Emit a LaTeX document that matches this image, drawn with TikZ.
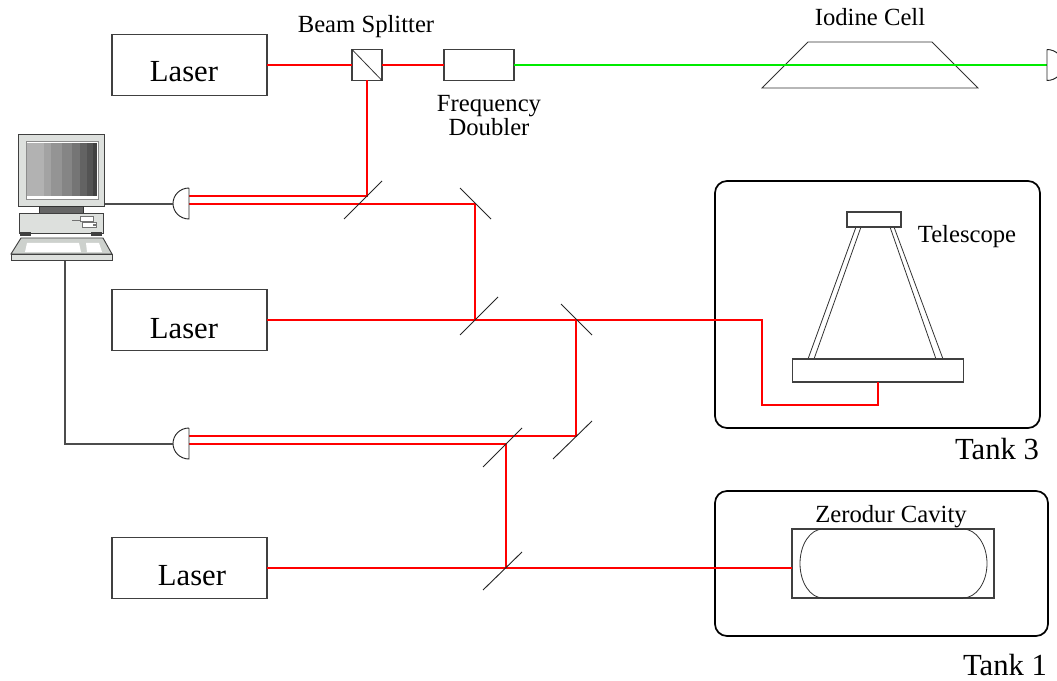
\documentclass[tikz,border=0pt]{standalone}
\usepackage{fontspec}
\setmainfont{Liberation Serif}
\newfontfamily\labelfont{Liberation Serif}
\begin{document}
\begin{tikzpicture}[x=0.75pt,y=-0.75pt,
  part/.style={draw=black!75,line width=0.8pt,inner sep=0pt,outer sep=0pt,fill=white},
  tank/.style={draw=black,line width=1.3pt,rounded corners=9pt,inner sep=0pt},
  beam/.style={draw=red,line width=1.4pt},
  gbeam/.style={draw={rgb,255:red,0;green,235;blue,0},line width=1.4pt},
  mirror/.style={draw=black!85,line width=0.7pt},
  det/.style={draw=black!85,line width=0.7pt,fill=white},
  cable/.style={draw=black!70,line width=0.8pt},
  thin/.style={draw=black!80,line width=0.6pt},
  small/.style={font=\labelfont\fontsize{18.5pt}{15.75pt}\selectfont,inner sep=0pt},
  big/.style={font=\labelfont\fontsize{23pt}{26pt}\selectfont,inner sep=0pt},
]
\useasboundingbox (0,0) rectangle (1057,681);

% ---------- lasers ----------
\node[part,minimum width=116.25pt,minimum height=45.75pt] (laserA) at (189.5,65) {};
\node[part,minimum width=116.25pt,minimum height=45.75pt] (laserB) at (189.5,320) {};
\node[part,minimum width=116.25pt,minimum height=45.75pt] (laserC) at (189.5,568) {};
\node[big,anchor=base] (laserAt) at (184,82) {Laser};
\node[big,anchor=base] (laserBt) at (184,338) {Laser};
\node[big,anchor=base] (laserCt) at (192,585) {Laser};

% ---------- tanks ----------
\node[tank,minimum width=243.75pt,minimum height=185.25pt] (tank3) at (877.5,304.5) {};
\node[tank,minimum width=249.75pt,minimum height=108.75pt] (tank1) at (881.5,563.5) {};
\node[big,anchor=base] (tank3t) at (997,459) {Tank 3};
\node[big,anchor=base] (tank1t) at (1005,675) {Tank 1};

% ---------- beam splitter cube and doubler ----------
\node[part,minimum width=22.5pt,minimum height=23.25pt] (cube) at (367,65) {};
\draw[thin] (cube.north west) -- (cube.south east);
\node[part,minimum width=52.5pt,minimum height=23.25pt] (doubler) at (479,65) {};
\node[small,anchor=base] (cubet) at (366,33) {Beam Splitter};
\node[small,align=center] (doublert) at (489,115.5) {Frequency\\Doubler};

% ---------- iodine cell ----------
\draw[thin] (808,42) -- (932,42) -- (978,88) -- (762,88) -- cycle;
\node[small,anchor=base] (iodinet) at (870,26) {Iodine Cell};

% ---------- telescope ----------
\draw[thin] (856,227) -- (808,359);
\draw[thin] (861,227) -- (814,359);
\draw[thin] (890,227) -- (936,359);
\draw[thin] (894,227) -- (943,359);
\node[part,minimum width=40.5pt,minimum height=11.25pt] (scopetop) at (874,219.5) {};
\node[part,minimum width=128.25pt,minimum height=17.25pt] (scopebase) at (878,370.5) {};
\node[small,anchor=base] (scopet) at (967,243) {Telescope};

% ---------- cavity ----------
\node[part,minimum width=151.5pt,minimum height=51.75pt] (cavity) at (893,563.5) {};
\draw[thin] (823,529) arc[start angle=-90,end angle=-270,x radius=23,y radius=34.5];
\draw[thin] (963,529) arc[start angle=-90,end angle=90,x radius=24,y radius=34.5];
\draw[thin] (823,529) -- (963,529) (823,598) -- (963,598);
\node[small,anchor=base] (cavityt) at (891,522) {Zerodur Cavity};

% ---------- beam path points ----------
\coordinate (d1a) at (189,196);
\coordinate (d1b) at (189,204);
\coordinate (d2a) at (189,436);
\coordinate (d2b) at (189,444);
\coordinate (m1) at (367,196);
\coordinate (m2) at (475,204);
\coordinate (m3) at (475,320);
\coordinate (m4) at (576,320);
\coordinate (m5) at (576,436);
\coordinate (m6) at (506,444);
\coordinate (m7) at (506,568);
\coordinate (t1) at (762,320);
\coordinate (t2) at (762,405);
\coordinate (t3) at (878,405);
\coordinate (det3) at (1047,65);

% ---------- beams ----------
\draw[beam] (laserA.east) -- (cube.west);
\draw[beam] (cube.east) -- (doubler.west);
\draw[gbeam] (doubler.east) -- (det3);
\draw[beam] (cube.south) -- (m1) -- (d1a);
\draw[beam] (d1b) -- (m2) -- (m3);
\draw[beam] (laserB.east) -- (t1) -- (t2) -- (t3) -- (scopebase.south);
\draw[beam] (m4) -- (m5) -- (d2a);
\draw[beam] (d2b) -- (m6) -- (m7);
\draw[beam] (laserC.east) -- (laserC.east -| cavity.west);

% ---------- mirrors ----------
\draw[mirror] (344,219) -- (382,181);
\draw[mirror] (460,188) -- (491,219);
\draw[mirror] (460,335) -- (498,297);
\draw[mirror] (561,304) -- (592,335);
\draw[mirror] (553,459) -- (592,421);
\draw[mirror] (483,467) -- (522,428);
\draw[mirror] (483,590) -- (522,552);

% ---------- detectors ----------
\coordinate (det1) at (189,203.5);
\coordinate (det2) at (189,443.5);
\coordinate (det1w) at (173,204);
\coordinate (det2w) at (173,444);
\draw[det] (det1) ++(0,-15.5) -- ++(0,31) arc[start angle=90,end angle=270,x radius=16,y radius=15.5];
\draw[det] (det2) ++(0,-15.5) -- ++(0,31) arc[start angle=90,end angle=270,x radius=16,y radius=15.5];
\draw[det] (det3) ++(0,-15.5) -- ++(0,31) arc[start angle=90,end angle=-90,x radius=16,y radius=15.5];

% ---------- computer ----------
\definecolor{pcbody}{RGB}{221,224,221}
\definecolor{pckey}{RGB}{205,209,205}
\coordinate (pcR) at (104,204);
\coordinate (pcB) at (65,260);
\draw[cable] (pcR) -- (det1w);
\draw[cable] (pcB) |- (det2w);
% monitor
\draw[fill=pcbody,draw=black!75,line width=0.7pt] (18,134) rectangle (104,206);
\fill[white] (26,141) rectangle (98,199);
\fill[black!30] (27,143) rectangle (44,196);
\fill[black!36] (44,143) rectangle (51,196);
\fill[black!42] (51,143) rectangle (62,196);
\fill[black!48] (62,143) rectangle (72,196);
\fill[black!54] (72,143) rectangle (80,196);
\fill[black!61] (80,143) rectangle (87,196);
\fill[black!67] (87,143) rectangle (93,196);
\fill[black!74] (93,143) rectangle (97,196);
\draw[black!45,line width=0.4pt] (26,141) rectangle (98,199);
% stand and base
\draw[fill=black!60,draw=black!80,line width=0.5pt] (39,206) rectangle (83,213);
\draw[fill=pcbody,draw=black!75,line width=0.7pt] (19,213) rectangle (103,233);
\fill[black!75] (20,232) rectangle (31,236);
\fill[black!75] (91,232) rectangle (102,236);
\draw[black!55,line width=0.5pt] (72,220) -- (84,220);
\draw[black!55,fill=white,line width=0.5pt] (80,216) rectangle (93,221);
\draw[black!55,fill=white,line width=0.5pt] (82,222) rectangle (96,227);
\fill[black!55] (93,224) rectangle (96,226);
% keyboard
\draw[fill=pckey,draw=black!75,line width=0.7pt] (21,238) -- (103,238) -- (112,254) -- (11,254) -- cycle;
\draw[fill=pcbody,draw=black!75,line width=0.7pt] (11,254) rectangle (112,260);
\fill[white] (27,243) -- (79,243) -- (81,252) -- (25,252) -- cycle;
\fill[white] (86,243) -- (99,243) -- (102,252) -- (87,252) -- cycle;
\end{tikzpicture}
\end{document}
